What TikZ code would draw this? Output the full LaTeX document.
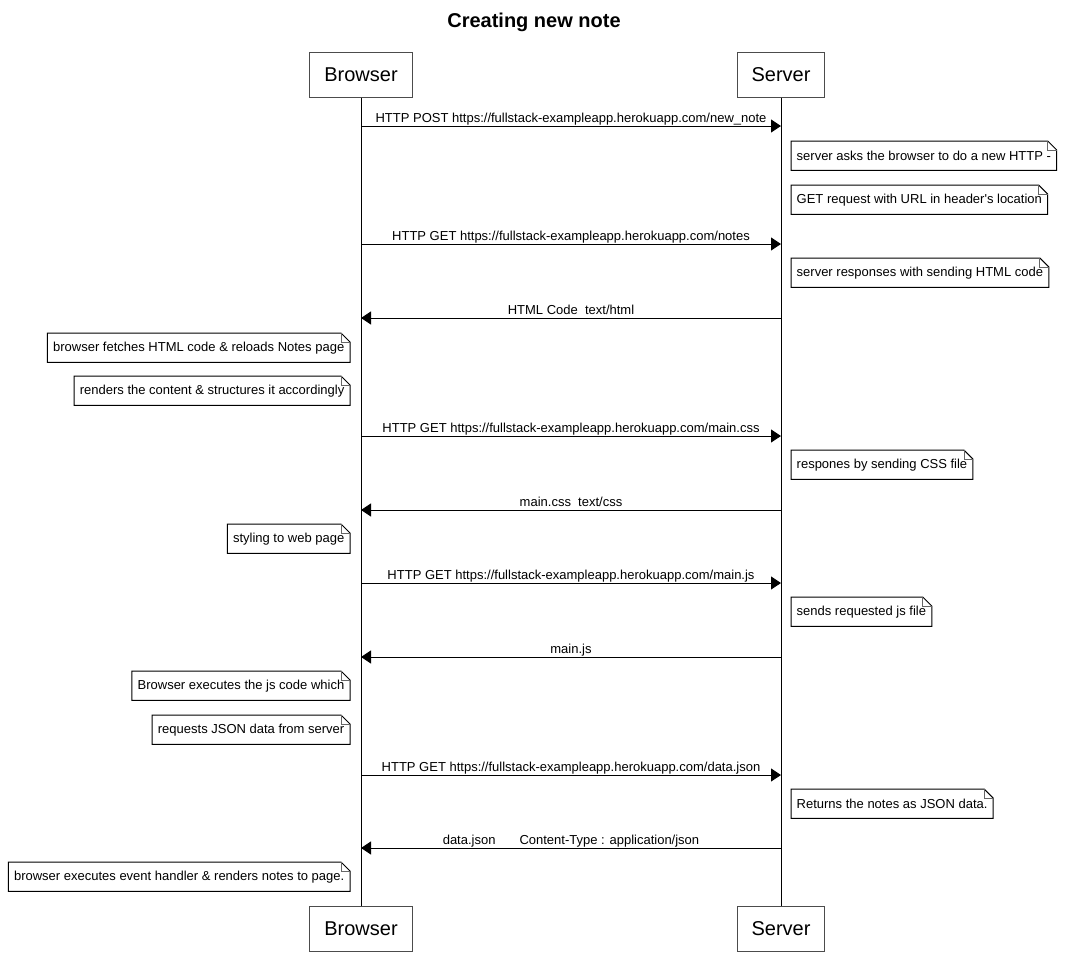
\documentclass[tikz,border=0pt]{standalone}
\usepackage{fontspec}
\setmainfont{Liberation Sans}
\usetikzlibrary{arrows.meta,positioning}
\tikzset{
  participant/.style={rectangle, draw=black!70, line width=1pt, fill=white,
                      inner xsep=14.5pt, minimum height=45pt,
                      font=\fontsize{20}{24}\selectfont},
  lifeline/.style={line width=1pt, draw=black},
  msg/.style={line width=1pt, -{Triangle[length=10pt,width=13pt]}},
  msglabel/.style={above, inner sep=0.5pt, text height=9.5pt, text depth=2.8pt,
                   font=\fontsize{13}{15}\selectfont},
  notebox/.style={rectangle, inner xsep=5.5pt, inner ysep=0pt, minimum height=29pt,
                  font=\fontsize{13}{15}\selectfont}
}
% folded-corner outline around a note node
\newcommand\foldnote[1]{%
  \draw[line width=1pt] (#1.north west) -- ([xshift=-9pt]#1.north east)
    -- ([yshift=-9pt]#1.north east) -- (#1.south east) -- (#1.south west) -- cycle;
  \draw[line width=0.8pt, black!60] ([xshift=-9pt]#1.north east) |- ([yshift=-9pt]#1.north east);}

\begin{document}
\begin{tikzpicture}[x=1pt, y=-1pt]
\useasboundingbox (0,0) rectangle (1067,975);
\node[font=\bfseries\fontsize{20}{24}\selectfont] (title) at (534,22) {Creating new note};

% participants
\node[participant] (brTop) at (361,74.5) {Browser};
\node[participant] (svTop) at (781,74.5) {Server};
\node[participant] (brBot) at (361,928.5) {Browser};
\node[participant] (svBot) at (781,928.5) {Server};
\draw[lifeline] (brTop.south) -- (brBot.north);
\draw[lifeline] (svTop.south) -- (svBot.north);

% message ends on the lifelines
\foreach \n/\y in {1/126, 2/244, 3/318, 4/436, 5/510, 6/583, 7/657, 8/775, 9/848} {
  \coordinate (b\n) at (brTop.south |- 0,\y);
  \coordinate (s\n) at (svTop.south |- 0,\y);
}

\draw[msg] (b1) -- node[msglabel] {HTTP POST https://fullstack-exampleapp.herokuapp.com/new\_note} (s1);
\node[notebox, anchor=north west] (n1) at (791,141) {server asks the browser to do a new HTTP -};
\node[notebox, anchor=north west] (n2) at (791,185) {GET request with URL in header\textquotesingle s location};

\draw[msg] (b2) -- node[msglabel] {HTTP GET https://fullstack-exampleapp.herokuapp.com/notes} (s2);
\node[notebox, anchor=north west] (n3) at (791,258) {server responses with sending HTML code};

\draw[msg] (s3) -- node[msglabel] {HTML Code\ \ text/html} (b3);
\node[notebox, anchor=north east] (n4) at (350,333) {browser fetches HTML code \& reloads Notes page};
\node[notebox, anchor=north east] (n5) at (350,376) {renders the content \& structures it accordingly};

\draw[msg] (b4) -- node[msglabel] {HTTP GET https://fullstack-exampleapp.herokuapp.com/main.css} (s4);
\node[notebox, anchor=north west] (n6) at (791,450) {respones by sending CSS file};

\draw[msg] (s5) -- node[msglabel] {main.css\ \ text/css} (b5);
\node[notebox, anchor=north east] (n7) at (350,524) {styling to web page};

\draw[msg] (b6) -- node[msglabel] {HTTP GET https://fullstack-exampleapp.herokuapp.com/main.js} (s6);
\node[notebox, anchor=north west] (n8) at (791,597) {sends requested js file};

\draw[msg] (s7) -- node[msglabel] {main.js} (b7);
\node[notebox, anchor=north east] (n9) at (350,671) {Browser executes the js code which};
\node[notebox, anchor=north east] (n10) at (350,715) {requests JSON data from server};

\draw[msg] (b8) -- node[msglabel] {HTTP GET https://fullstack-exampleapp.herokuapp.com/data.json} (s8);
\node[notebox, anchor=north west] (n11) at (791,789) {Returns the notes as JSON data.};

\draw[msg] (s9) -- node[msglabel] {data.json\hspace{24pt}Content-Type : application/json} (b9);
\node[notebox, anchor=north east] (n12) at (350,862) {browser executes event handler \& renders notes to page.};

\foreach \k in {1,...,12} {\foldnote{n\k}}
\end{tikzpicture}
\end{document}
